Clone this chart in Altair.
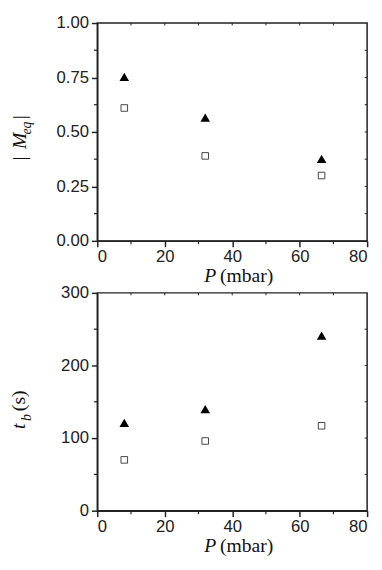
import altair as alt
import pandas as pd

# ---- data ----
P = [8, 32, 66.5]
M_tri = [0.753, 0.566, 0.376]
M_sq = [0.61, 0.39, 0.30]
T_tri = [121, 140, 241]
T_sq = [70, 96, 117]

x_ticks = [0, 20, 40, 60, 80]
x_minor = [10, 30, 50, 70]
m_ticks = [0.0, 0.25, 0.5, 0.75, 1.0]
m_minor = [0.125, 0.375, 0.625, 0.875]
t_ticks = [0, 100, 200, 300]
t_minor = [50, 150, 250]

W, H = 275, 222
AX = "#222222"
SERIF = "'Liberation Serif', 'Times New Roman', serif"
SANS = "'Liberation Sans', Arial, sans-serif"


def txt(s, x, y, size=20, style="normal", angle=0, align="center", baseline="alphabetic"):
    return alt.Chart(pd.DataFrame({"t": [s]})).mark_text(
        text=s, font=SERIF, fontSize=size, fontStyle=style, angle=angle,
        align=align, baseline=baseline, color="#111"
    ).encode(x=alt.value(x), y=alt.value(y))


def panel(v_tri, v_sq, ydom, yticks, yminor, yfmt, title_layers):
    xs = alt.Scale(domain=[0, 80], nice=False, zero=False)
    ys = alt.Scale(domain=ydom, nice=False, zero=False)
    xaxis = alt.Axis(values=x_ticks, format="d", title=None, tickSize=6, labelPadding=2)
    yaxis = alt.Axis(values=yticks, format=yfmt, title=None, tickSize=6, labelPadding=3)
    X = lambda f: alt.X(f, scale=xs, axis=xaxis)
    Y = lambda f: alt.Y(f, scale=ys, axis=yaxis)

    tri = alt.Chart(pd.DataFrame({"P": P, "v": v_tri})).mark_point(
        shape="triangle-up", filled=True, color="black", size=95, opacity=1
    ).encode(x=X("P:Q"), y=Y("v:Q"))

    sq = alt.Chart(pd.DataFrame({"P": P, "v": v_sq})).mark_point(
        shape="square", filled=True, fill="white", stroke="#444", strokeWidth=1, size=45, opacity=1
    ).encode(x=X("P:Q"), y=Y("v:Q"))

    xall = sorted(x_minor + x_ticks[1:-1])
    yall = sorted(yminor + yticks[1:-1])
    xmin_bot = alt.Chart(pd.DataFrame({"P": x_minor})).mark_rule(color=AX, strokeWidth=1.2).encode(
        x=X("P:Q"), y=alt.value(H), y2=alt.value(H + 3.5))
    ymin_left = alt.Chart(pd.DataFrame({"v": yminor})).mark_rule(color=AX, strokeWidth=1.2).encode(
        y=Y("v:Q"), x=alt.value(0), x2=alt.value(-3.5))
    xtop = alt.Chart(pd.DataFrame({"P": xall})).mark_rule(color=AX, strokeWidth=1).encode(
        x=X("P:Q"), y=alt.value(0), y2=alt.value(2.5))
    yright = alt.Chart(pd.DataFrame({"v": yall})).mark_rule(color=AX, strokeWidth=1).encode(
        y=Y("v:Q"), x=alt.value(W), x2=alt.value(W - 2.5))

    xtitle = [txt("P", 109, H + 42, style="italic", align="left"),
              txt("(mbar)", 125, H + 42, align="left")]

    return alt.layer(tri, sq, xmin_bot, ymin_left, xtop, yright, *xtitle, *title_layers).properties(
        width=W, height=H)


top_title = [
    txt("|", -73, 138, angle=270),
    txt("M", -73, 120, style="italic", angle=270),
    txt("eq", -68, 107, size=14, style="italic", angle=270),
    txt("|", -73, 96, angle=270),
]
bot_title = [
    txt("t", -74, 136, style="italic", angle=270),
    txt("b", -68, 127, size=14, style="italic", angle=270),
    txt("(s)", -74, 110, angle=270),
]

top = panel(M_tri, M_sq, [0, 1], m_ticks, m_minor, ".2f", top_title)
bottom = panel(T_tri, T_sq, [0, 300], t_ticks, t_minor, "d", bot_title)

chart = alt.vconcat(top, bottom, spacing=53, bounds="flush").properties(
    padding={"left": 0, "top": 0, "right": 5, "bottom": 2}
).configure_view(
    stroke=AX, strokeWidth=1.5
).configure_axis(
    labelFont=SANS, labelFontSize=17, labelColor=AX,
    domainColor=AX, tickColor=AX, domainWidth=1.5, tickWidth=1.5, grid=False
)

chart.save("out.html", embed_options={"renderer": "svg", "actions": False})
